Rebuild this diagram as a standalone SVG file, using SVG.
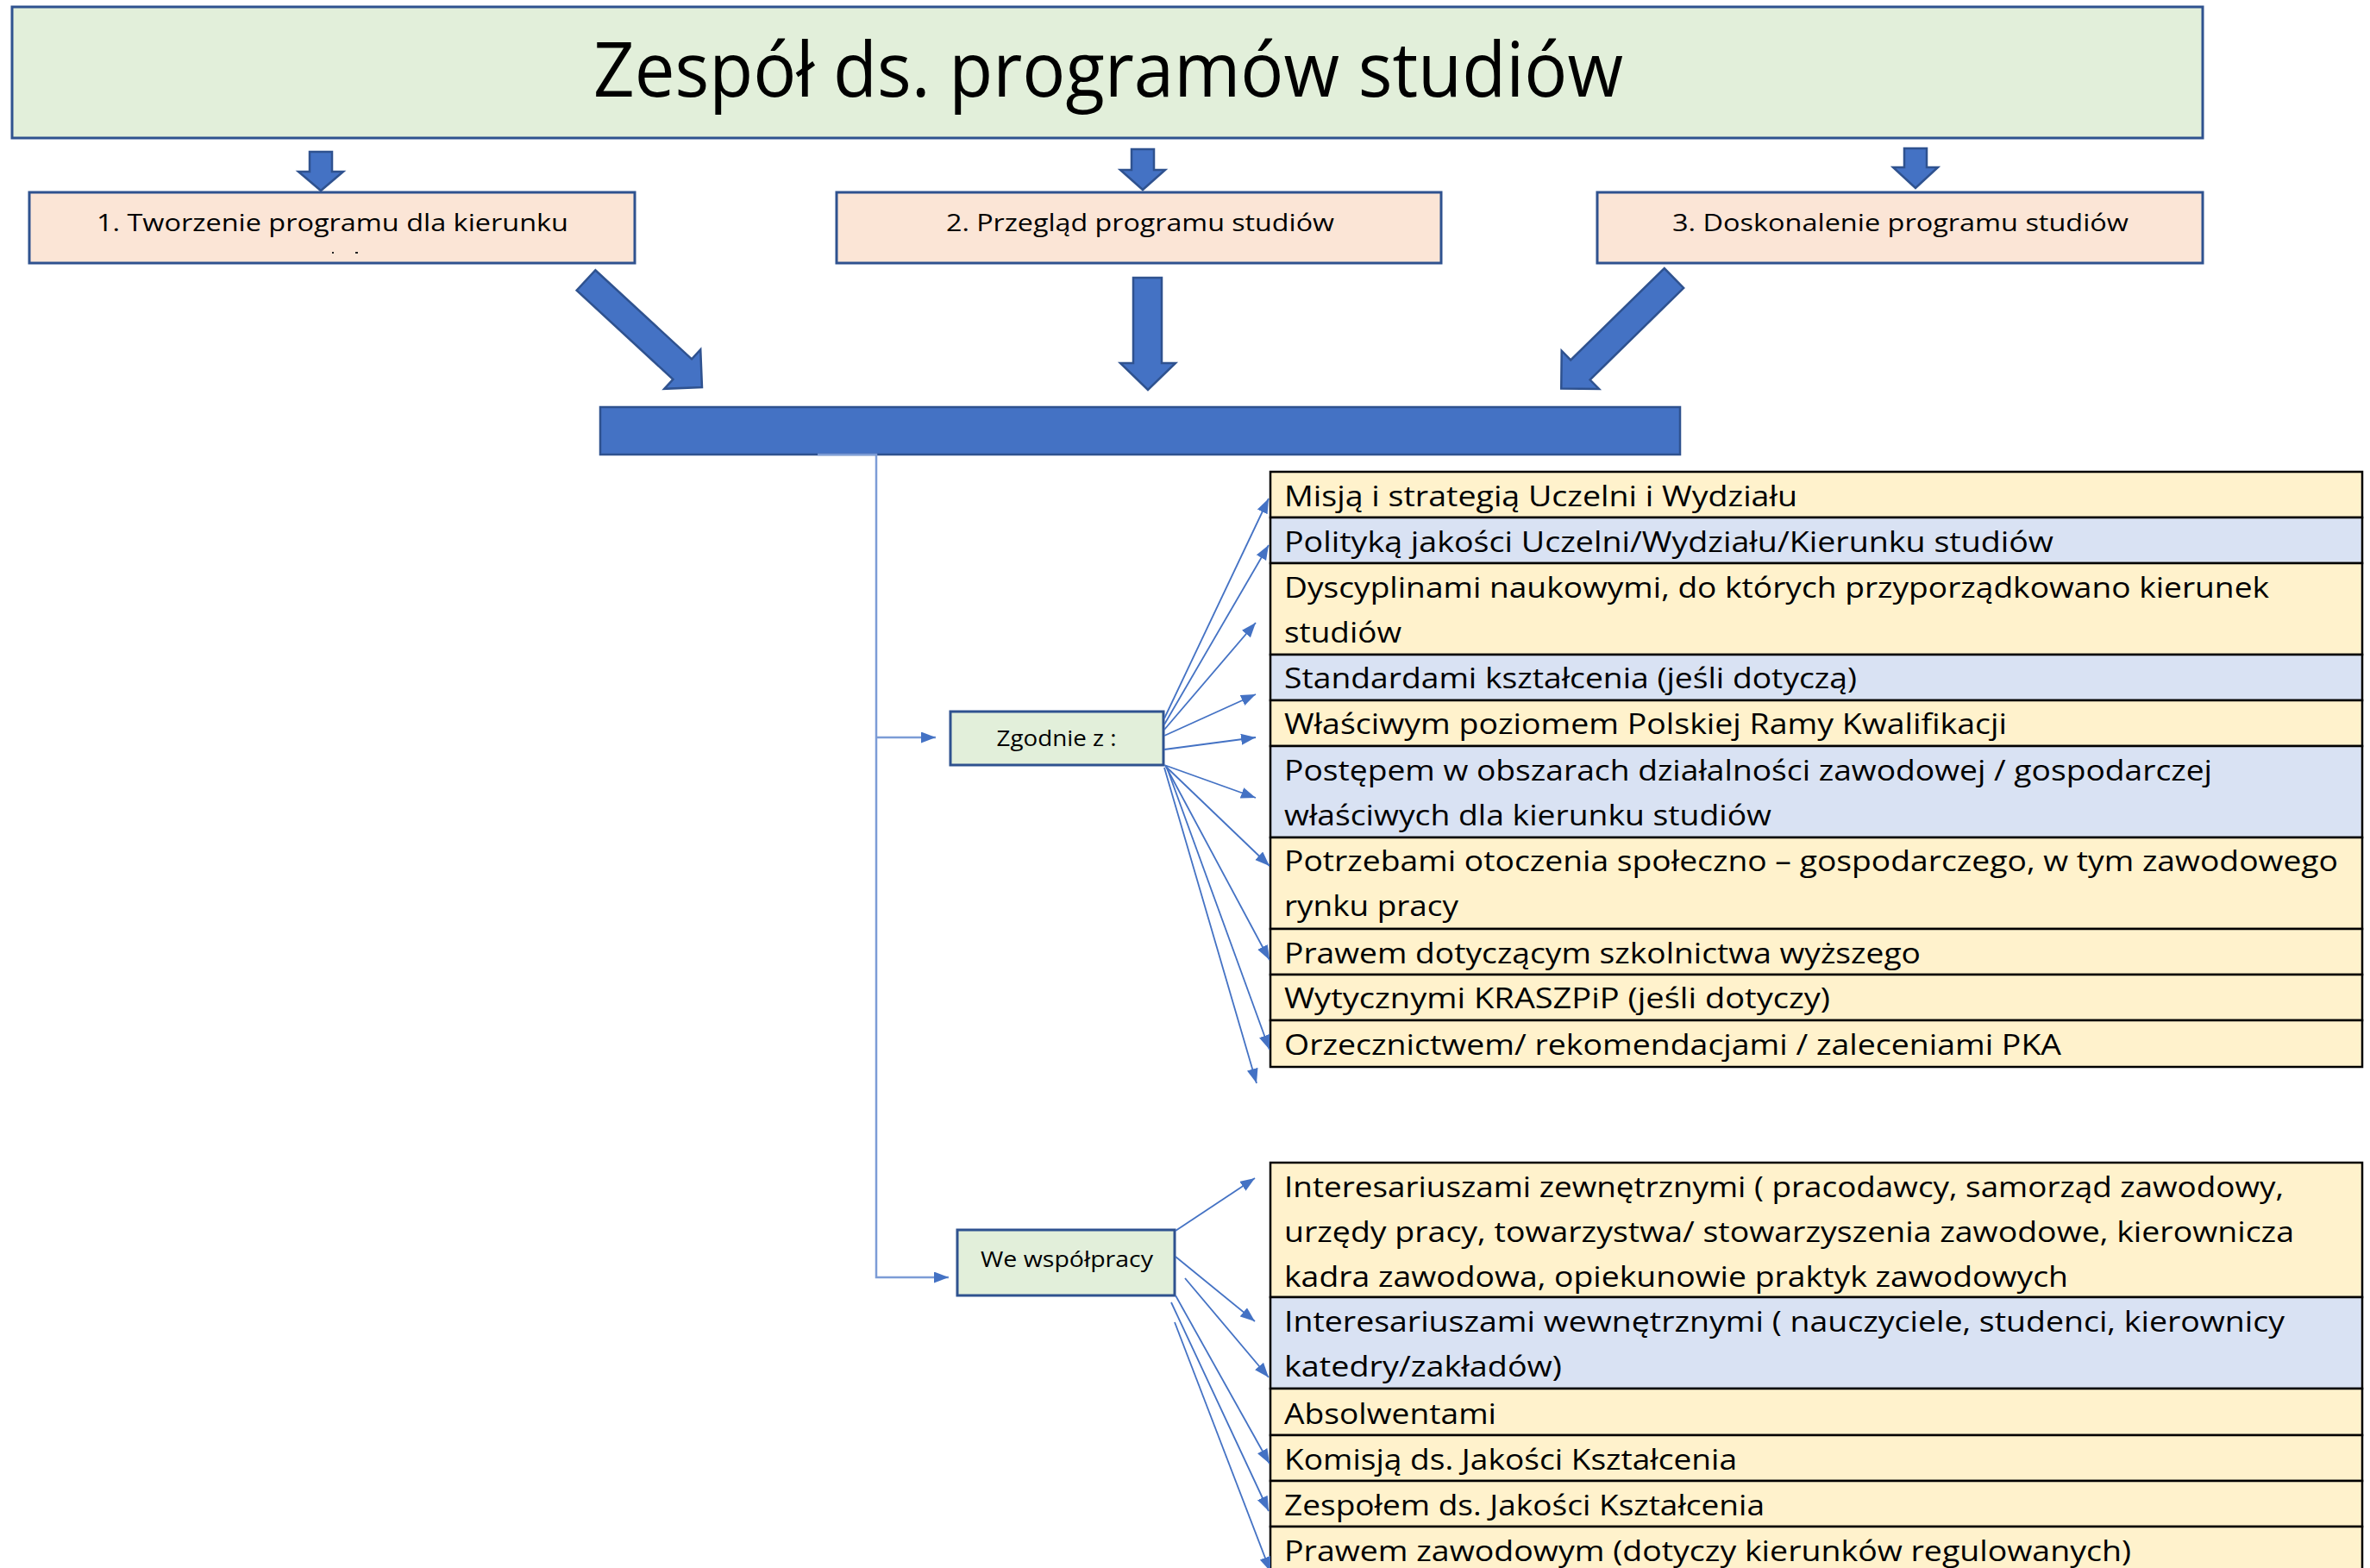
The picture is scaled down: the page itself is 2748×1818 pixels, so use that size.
<svg xmlns="http://www.w3.org/2000/svg" width="2748" height="1818" viewBox="0 0 2748 1818">
<style>
text{font-family:"Open Sans","Noto Sans","Liberation Sans",sans-serif;fill:#000}
.title{font-size:87px}
.hdr{font-size:28px}
.small{font-size:25px}
.row{font-size:32px}
.hbox{fill:#FBE5D6;stroke:#2F528F;stroke-width:3}
.gbox{fill:#E2EFDA;stroke:#2F528F;stroke-width:3}
.blk{fill:#4472C4;stroke:#2F528F;stroke-width:2.5;stroke-linejoin:miter}
.y{fill:#FFF2CC;stroke:#000;stroke-width:2.5}
.b{fill:#D9E2F3;stroke:#000;stroke-width:2.5}
.con{fill:none;stroke:#4472C4;stroke-width:1.8}
.trunk{fill:none;stroke:#7C9CD6;stroke-width:2.5}
</style>
<defs>
<marker id="ah" markerUnits="userSpaceOnUse" markerWidth="18" markerHeight="14" refX="17" refY="6.5" orient="auto">
<path d="M0,0 L17,6.5 L0,13 z" fill="#4472C4"/>
</marker>
<polygon id="diag" points="0,-16 152,-16 152,-31 183,0 152,31 152,16 0,16"/>
</defs>

<g id="title">
<rect x="14" y="8" width="2540" height="152" class="gbox"/>
<text x="1285" y="112" class="title" text-anchor="middle" textLength="1194" lengthAdjust="spacingAndGlyphs">Zespół ds. programów studiów</text>
</g>

<g id="down-arrows">
<polygon class="blk" points="359,176 385,176 385,199 398,199 372,221 346,199 359,199"/>
<polygon class="blk" points="1312,173 1338,173 1338,197 1351,197 1325,220 1299,197 1312,197"/>
<polygon class="blk" points="2208,172 2234,172 2234,194 2247,194 2221,218 2195,194 2208,194"/>
</g>

<g id="box1">
<rect x="34" y="223" width="702" height="82" class="hbox"/>
<text x="385.5" y="268" class="hdr" text-anchor="middle" textLength="547" lengthAdjust="spacingAndGlyphs">1. Tworzenie programu dla kierunku</text>
<rect x="385" y="292" width="2" height="2" fill="#222"/>
<rect x="412" y="292" width="3" height="2" fill="#222"/>
</g>
<g id="box2">
<rect x="970" y="223" width="701" height="82" class="hbox"/>
<text x="1322" y="268" class="hdr" text-anchor="middle" textLength="450" lengthAdjust="spacingAndGlyphs">2. Przegląd programu studiów</text>
</g>
<g id="box3">
<rect x="1852" y="223" width="702" height="82" class="hbox"/>
<text x="2203.5" y="268" class="hdr" text-anchor="middle" textLength="529" lengthAdjust="spacingAndGlyphs">3. Doskonalenie programu studiów</text>
</g>

<g id="big-arrows">
<use href="#diag" class="blk" transform="translate(679.5,325) rotate(42.7)"/>
<polygon class="blk" points="1314,322 1347,322 1347,421 1363,421 1331,452 1299,421 1314,421"/>
<use href="#diag" class="blk" transform="translate(1941,322.5) rotate(135.6)"/>
</g>

<g id="bar">
<rect x="696" y="472" width="1252" height="55" class="blk"/>
</g>

<g id="zgodnie">
<rect x="1102" y="825" width="247" height="62" class="gbox"/>
<text x="1225" y="865" class="small" text-anchor="middle" textLength="139" lengthAdjust="spacingAndGlyphs">Zgodnie z :</text>
</g>

<g id="wspolpraca">
<rect x="1110" y="1426" width="252" height="76" class="gbox"/>
<text x="1237" y="1469" class="small" text-anchor="middle" textLength="200" lengthAdjust="spacingAndGlyphs">We współpracy</text>
</g>

<g id="table-zgodnie">
<rect x="1473" y="547" width="1266" height="53" class="y"/>
<text x="1489" y="587" class="row" textLength="595" lengthAdjust="spacingAndGlyphs">Misją i strategią Uczelni i Wydziału</text>
<rect x="1473" y="600" width="1266" height="53" class="b"/>
<text x="1489" y="640" class="row" textLength="892" lengthAdjust="spacingAndGlyphs">Polityką jakości Uczelni/Wydziału/Kierunku studiów</text>
<rect x="1473" y="653" width="1266" height="106" class="y"/>
<text x="1489" y="693" class="row" textLength="1142" lengthAdjust="spacingAndGlyphs">Dyscyplinami naukowymi, do których przyporządkowano kierunek</text>
<text x="1489" y="745" class="row" textLength="136" lengthAdjust="spacingAndGlyphs">studiów</text>
<rect x="1473" y="759" width="1266" height="53" class="b"/>
<text x="1489" y="798" class="row" textLength="664" lengthAdjust="spacingAndGlyphs">Standardami kształcenia (jeśli dotyczą)</text>
<rect x="1473" y="812" width="1266" height="53" class="y"/>
<text x="1489" y="851" class="row" textLength="838" lengthAdjust="spacingAndGlyphs">Właściwym poziomem Polskiej Ramy Kwalifikacji</text>
<rect x="1473" y="865" width="1266" height="106" class="b"/>
<text x="1489" y="905" class="row" textLength="1076" lengthAdjust="spacingAndGlyphs">Postępem w obszarach działalności zawodowej / gospodarczej</text>
<text x="1489" y="957" class="row" textLength="565" lengthAdjust="spacingAndGlyphs">właściwych dla kierunku studiów</text>
<rect x="1473" y="971" width="1266" height="106" class="y"/>
<text x="1489" y="1010" class="row" textLength="1222" lengthAdjust="spacingAndGlyphs">Potrzebami otoczenia społeczno – gospodarczego, w tym zawodowego</text>
<text x="1489" y="1062" class="row" textLength="202" lengthAdjust="spacingAndGlyphs">rynku pracy</text>
<rect x="1473" y="1077" width="1266" height="53" class="y"/>
<text x="1489" y="1117" class="row" textLength="738" lengthAdjust="spacingAndGlyphs">Prawem dotyczącym szkolnictwa wyższego</text>
<rect x="1473" y="1130" width="1266" height="53" class="y"/>
<text x="1489" y="1169" class="row" textLength="633" lengthAdjust="spacingAndGlyphs">Wytycznymi KRASZPiP (jeśli dotyczy)</text>
<rect x="1473" y="1183" width="1266" height="54" class="y"/>
<text x="1489" y="1223" class="row" textLength="901" lengthAdjust="spacingAndGlyphs">Orzecznictwem/ rekomendacjami / zaleceniami PKA</text>
</g>

<g id="table-wspolpraca">
<rect x="1473" y="1348" width="1266" height="156" class="y"/>
<text x="1489" y="1388" class="row" textLength="1159" lengthAdjust="spacingAndGlyphs">Interesariuszami zewnętrznymi ( pracodawcy, samorząd zawodowy,</text>
<text x="1489" y="1440" class="row" textLength="1171" lengthAdjust="spacingAndGlyphs">urzędy pracy, towarzystwa/ stowarzyszenia zawodowe, kierownicza</text>
<text x="1489" y="1492" class="row" textLength="909" lengthAdjust="spacingAndGlyphs">kadra zawodowa, opiekunowie praktyk zawodowych</text>
<rect x="1473" y="1504" width="1266" height="106" class="b"/>
<text x="1489" y="1544" class="row" textLength="1160" lengthAdjust="spacingAndGlyphs">Interesariuszami wewnętrznymi ( nauczyciele, studenci, kierownicy</text>
<text x="1489" y="1596" class="row" textLength="322" lengthAdjust="spacingAndGlyphs">katedry/zakładów)</text>
<rect x="1473" y="1610" width="1266" height="54" class="y"/>
<text x="1489" y="1651" class="row" textLength="246" lengthAdjust="spacingAndGlyphs">Absolwentami</text>
<rect x="1473" y="1664" width="1266" height="53" class="y"/>
<text x="1489" y="1704" class="row" textLength="525" lengthAdjust="spacingAndGlyphs">Komisją ds. Jakości Kształcenia</text>
<rect x="1473" y="1717" width="1266" height="53" class="y"/>
<text x="1489" y="1757" class="row" textLength="557" lengthAdjust="spacingAndGlyphs">Zespołem ds. Jakości Kształcenia</text>
<rect x="1473" y="1770" width="1266" height="60" class="y"/>
<text x="1489" y="1810" class="row" textLength="982" lengthAdjust="spacingAndGlyphs">Prawem zawodowym (dotyczy kierunków regulowanych)</text>
</g>

<g id="connectors">
<path class="trunk" d="M948,527 H1016 V1481 H1100" marker-end="url(#ah)"/>
<path class="trunk" d="M1016,855 H1085" marker-end="url(#ah)"/>
<line class="con" x1="1350" y1="833" x2="1471" y2="578" marker-end="url(#ah)"/>
<line class="con" x1="1350" y1="840" x2="1471" y2="632" marker-end="url(#ah)"/>
<line class="con" x1="1350" y1="846" x2="1456" y2="722" marker-end="url(#ah)"/>
<line class="con" x1="1350" y1="853" x2="1456" y2="805" marker-end="url(#ah)"/>
<line class="con" x1="1350" y1="869" x2="1456" y2="855" marker-end="url(#ah)"/>
<line class="con" x1="1350" y1="887" x2="1456" y2="925" marker-end="url(#ah)"/>
<line class="con" x1="1351" y1="888" x2="1472" y2="1004" marker-end="url(#ah)"/>
<line class="con" x1="1352" y1="889" x2="1472" y2="1113" marker-end="url(#ah)"/>
<line class="con" x1="1353" y1="890" x2="1472" y2="1217" marker-end="url(#ah)"/>
<line class="con" x1="1350" y1="890" x2="1457" y2="1256" marker-end="url(#ah)"/>
<line class="con" x1="1363" y1="1427" x2="1455" y2="1366" marker-end="url(#ah)"/>
<line class="con" x1="1363" y1="1457" x2="1455" y2="1532" marker-end="url(#ah)"/>
<line class="con" x1="1374" y1="1482" x2="1471" y2="1597" marker-end="url(#ah)"/>
<line class="con" x1="1363" y1="1502" x2="1472" y2="1697" marker-end="url(#ah)"/>
<line class="con" x1="1358" y1="1510" x2="1471" y2="1752" marker-end="url(#ah)"/>
<line class="con" x1="1362" y1="1533" x2="1473" y2="1822" marker-end="url(#ah)"/>
</g>
</svg>
